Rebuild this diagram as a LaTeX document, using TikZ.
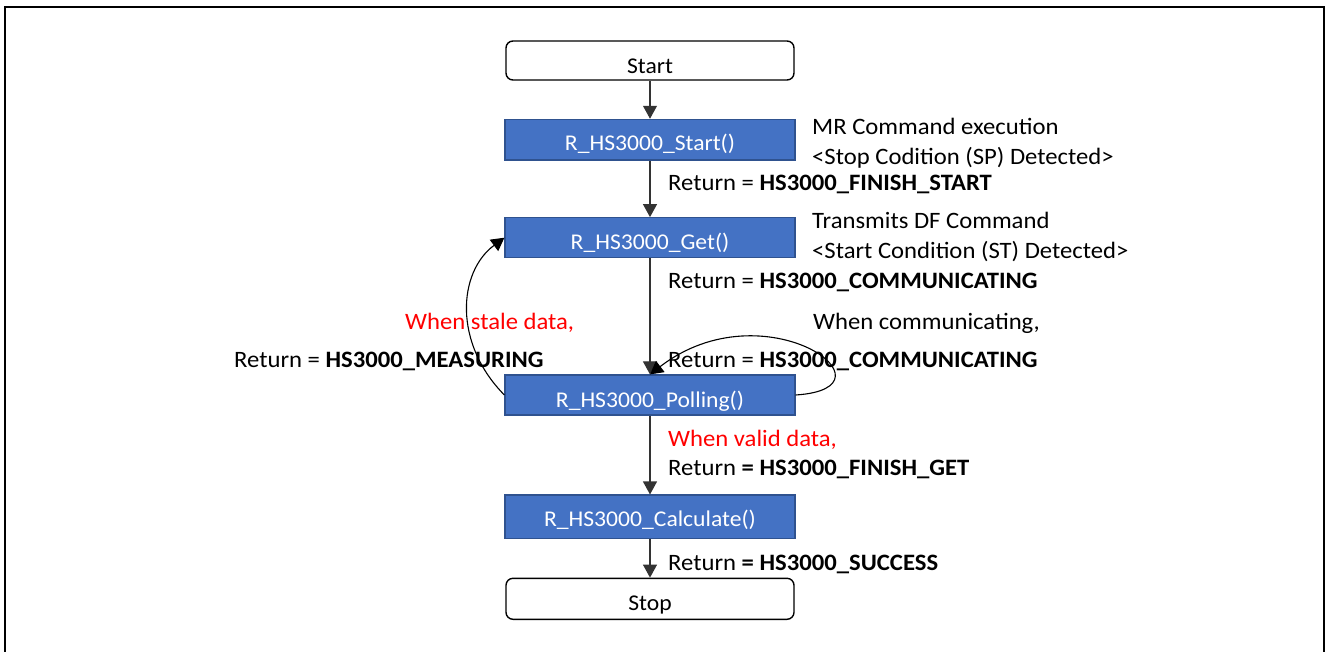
\documentclass[tikz,border=0pt]{standalone}
\usepackage{fontspec}
\setmainfont{Carlito}[FakeStretch=1.05]
\usetikzlibrary{arrows.meta}
\definecolor{boxblue}{HTML}{4472C4}
\definecolor{boxedge}{HTML}{2F528F}
\definecolor{redtxt}{HTML}{FF0000}
\newcommand\btxt[2]{\raisebox{-#1}[0pt][0pt]{#2}}
\begin{document}
\begin{tikzpicture}[x=1pt,y=-1pt,
  every node/.style={font=\fontsize{23.5}{28}\selectfont},
  termbox/.style={draw=black,line width=1.4pt,rounded corners=7pt,fill=white,minimum width=288pt,inner sep=0pt,text height=0pt,text depth=0pt,font=\fontsize{22.5}{26}\selectfont},
  funcbox/.style={draw=boxedge,line width=1.2pt,fill=boxblue,text=white,minimum width=290pt,inner sep=0pt,text height=0pt,text depth=0pt,font=\fontsize{22.5}{26}\selectfont},
  lbl/.style={anchor=base west,inner sep=0pt},
  redlbl/.style={lbl,text=redtxt},
  conn/.style={draw=black!80,line width=1.1pt,-{Triangle[length=13pt,width=14pt]}}
]
\useasboundingbox (0,0) rectangle (1326,651);
\draw[line width=2.4pt] (5,660) -- (5,7) -- (1324,7) -- (1324,660);

\node[termbox,minimum height=39pt] (start) at (650,60.5) {\btxt{12.5pt}{Start}};
\node[funcbox,minimum height=40.7pt] (s1) at (650,139.7) {\btxt{11pt}{R\_HS3000\_Start()}};
\node[funcbox,minimum height=40pt] (get) at (650,237.7) {\btxt{11.3pt}{R\_HS3000\_Get()}};
\node[funcbox,minimum height=40pt] (poll) at (650,395) {\btxt{12.7pt}{R\_HS3000\_Polling()}};
\node[funcbox,minimum height=43.3pt] (calc) at (650,516.7) {\btxt{10pt}{R\_HS3000\_Calculate()}};
\node[termbox,minimum height=41pt] (stop) at (650,598.8) {\btxt{11.9pt}{Stop}};

\draw[conn] (start) -- (s1);
\draw[conn] (s1) -- (get);
\draw[conn] (get) -- (poll);
\draw[conn] (poll) -- (calc);
\draw[conn] (calc) -- (stop);

\coordinate (pl) at (poll.west);
\coordinate (gl) at (get.west);
\draw[conn,draw=black] (pl) .. controls (453,343) and (458,272) .. (gl);
\draw[conn,draw=black] (poll.east) .. controls (905,388) and (765,286) .. (poll.north);

\node[lbl] (t1) at (812,134) {MR Command execution};
\node[lbl] (t2) at (812,164) {<Stop Codition (SP) Detected>};
\node[lbl] (t3) at (668,190) {Return = \textbf{HS3000\_FINISH\_START}};
\node[lbl] (t4) at (812,228) {Transmits DF Command};
\node[lbl] (t5) at (812,258) {<Start Condition (ST) Detected>};
\node[lbl] (t6) at (668,288) {Return = \textbf{HS3000\_COMMUNICATING}};
\node[redlbl] (t7) at (405,329) {When stale data,};
\node[lbl] (t8) at (813,329) {When communicating,};
\node[lbl] (t9) at (234,367) {Return = \textbf{HS3000\_MEASURING}};
\node[lbl] (t10) at (668,367) {Return = \textbf{HS3000\_COMMUNICATING}};
\node[redlbl] (t11) at (668,446) {When valid data,};
\node[lbl] (t12) at (668,475) {Return \textbf{= HS3000\_FINISH\_GET}};
\node[lbl] (t13) at (668,570) {Return \textbf{= HS3000\_SUCCESS}};
\end{tikzpicture}
\end{document}
